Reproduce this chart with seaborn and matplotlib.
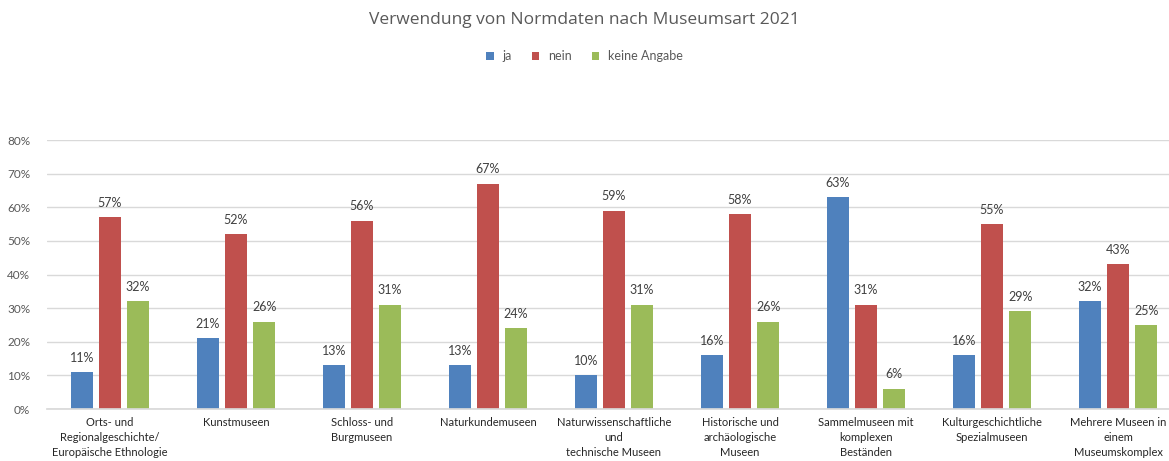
import matplotlib
matplotlib.use("Agg")
import matplotlib.pyplot as plt
import seaborn as sns
import pandas as pd
from matplotlib.patches import Patch
from matplotlib.ticker import PercentFormatter

categories = [
    "Orts- und\nRegionalgeschichte/\nEuropäische Ethnologie",
    "Kunstmuseen",
    "Schloss- und\nBurgmuseen",
    "Naturkundemuseen",
    "Naturwissenschaftliche\nund\ntechnische Museen",
    "Historische und\narchäologische\nMuseen",
    "Sammelmuseen mit\nkomplexen\nBeständen",
    "Kulturgeschichtliche\nSpezialmuseen",
    "Mehrere Museen in\neinem\nMuseumskomplex",
]
series = ["ja", "nein", "keine Angabe"]
ja = [11, 21, 13, 13, 10, 16, 63, 16, 32]
nein = [57, 52, 56, 67, 59, 58, 31, 55, 43]
keine = [32, 26, 31, 24, 31, 26, 6, 29, 25]
colors = ["#4F81BD", "#C0504D", "#9BBB59"]

rows = []
for s, vals in zip(series, [ja, nein, keine]):
    for c, v in zip(categories, vals):
        rows.append({"Kategorie": c, "Antwort": s, "Wert": v / 100})
df = pd.DataFrame(rows)

sns.set_theme(style="white")
plt.rcParams["font.family"] = ["Lato", "DejaVu Sans"]

fig = plt.figure(figsize=(11.69, 4.61), dpi=100)
W, H = 1169, 461
ax = fig.add_axes([47 / W, 1 - 409 / H, (1181 - 47) / W, (409 - 140) / H])

sns.barplot(data=df, x="Kategorie", y="Wert", hue="Antwort", order=categories,
            hue_order=series, palette=colors, width=0.67, gap=0.2,
            saturation=1, legend=False, ax=ax, edgecolor="none")

for cont in ax.containers:
    ax.bar_label(cont, labels=[f"{round(b.get_height()*100):d}%" for b in cont],
                 padding=6, fontsize=9, color="#404040")

ax.set_ylim(0, 0.8)
ax.set_xlim(-0.5, len(categories) - 0.5)
ax.set_yticks([i / 10 for i in range(9)])
ax.yaxis.set_major_formatter(PercentFormatter(1.0, decimals=0))
ax.grid(axis="y", color="#D9D9D9", linewidth=1)
ax.set_axisbelow(True)
for sp in ["top", "right", "left"]:
    ax.spines[sp].set_visible(False)
ax.spines["bottom"].set_color("#D9D9D9")
ax.set_xlabel("")
ax.set_ylabel("")
ax.tick_params(axis="y", length=0, pad=12, labelsize=8.5, labelcolor="#595959")
ax.tick_params(axis="x", length=0, pad=6, labelsize=8, labelcolor="#262626")
for t in ax.get_xticklabels():
    t.set_linespacing(1.4)

fig.text(0.5, 1 - 20 / H, "Verwendung von Normdaten nach Museumsart 2021",
         ha="center", va="center", fontsize=12.5, color="#595959",
         family=["Open Sans", "DejaVu Sans"])

handles = [Patch(facecolor=c, edgecolor="none", label=s) for s, c in zip(series, colors)]
fig.legend(handles=handles, loc="center", bbox_to_anchor=(0.5, 1 - 56 / H), ncol=3,
           frameon=False, handlelength=0.6, handleheight=0.6, handletextpad=0.7,
           columnspacing=1.6, fontsize=9, labelcolor="#595959")

fig.savefig("out.png", dpi=100)
